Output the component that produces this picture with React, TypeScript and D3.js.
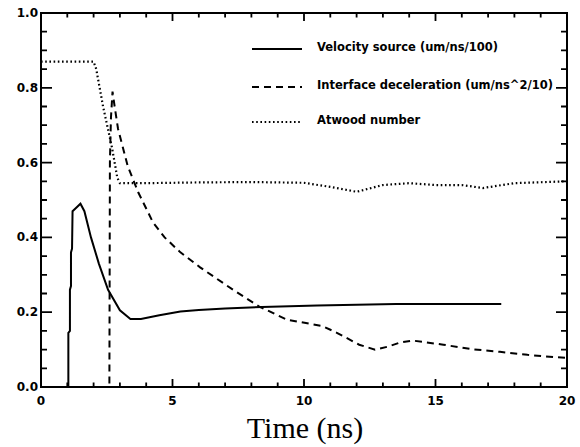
import React from 'react';
import * as d3 from 'd3';

// tick labels
const timeTicks = [0, 5, 10, 15, 20];
const valueTicks = [0, 0.2, 0.4, 0.6, 0.8, 1.0];

// Velocity source (um/ns/100)
const velocityTime = [0, 1.04, 1.04, 1.1, 1.1, 1.14, 1.14, 1.18, 1.2, 1.35, 1.5, 1.65, 1.9, 2.2, 2.55, 3.0, 3.4, 3.8, 4.5, 5.3, 6.0, 7.0, 8.4, 10.5, 13.5, 17.5];
const velocityValue = [0, 0, 0.145, 0.15, 0.26, 0.27, 0.36, 0.37, 0.47, 0.48, 0.49, 0.47, 0.4, 0.33, 0.26, 0.205, 0.182, 0.182, 0.192, 0.202, 0.206, 0.21, 0.214, 0.218, 0.222, 0.222];

// Interface deceleration (um/ns^2/10)
const decelTime = [0, 2.6, 2.62, 2.66, 2.72, 2.8, 2.93, 3.3, 3.7, 4.26, 4.7, 5.3, 6.05, 7.3, 8.3, 9.35, 10.7, 11.25, 12.1, 12.7, 13.2, 13.65, 14.15, 15.3, 16.4, 17.45, 18.5, 19.5, 20];
const decelValue = [0, 0, 0.6, 0.72, 0.79, 0.75, 0.69, 0.59, 0.52, 0.44, 0.4, 0.36, 0.32, 0.26, 0.215, 0.18, 0.163, 0.145, 0.113, 0.1, 0.108, 0.119, 0.124, 0.113, 0.101, 0.094, 0.086, 0.08, 0.078];

// Atwood number
const atwoodTime = [0, 2.0, 2.1, 2.36, 2.7, 2.9, 3.0, 4, 6, 8, 10, 11, 12, 13, 14, 15, 16, 16.8, 18, 20];
const atwoodValue = [0.87, 0.87, 0.85, 0.75, 0.64, 0.56, 0.545, 0.545, 0.547, 0.548, 0.546, 0.535, 0.522, 0.54, 0.545, 0.54, 0.54, 0.532, 0.545, 0.55];

const legendLabels = ['Velocity source (um/ns/100)', 'Interface deceleration (um/ns^2/10)', 'Atwood number'];
const dashes = [undefined, '7,5', '1.6,2.6'];

const width = 580;
const height = 447;
const left = 41, right = 567, top = 13, bottom = 387;

const App: React.FC = () => {
  const x = d3.scaleLinear().domain([0, 20]).range([left, right]);
  const y = d3.scaleLinear().domain([0, 1]).range([bottom, top]);
  const line = d3.line<[number, number]>().x(d => x(d[0])).y(d => y(d[1]));

  const series = [
    velocityTime.map((t, i) => [t, velocityValue[i]] as [number, number]),
    decelTime.map((t, i) => [t, decelValue[i]] as [number, number]),
    atwoodTime.map((t, i) => [t, atwoodValue[i]] as [number, number]),
  ];

  // minor ticks every 1 ns and every 0.05
  const xMinor = x.ticks(20);
  const yMinor = y.ticks(20);
  const labelFont = '"DejaVu Sans", sans-serif';
  const legendY = [47, 85, 120];

  // tick marks on all four sides, majors longer
  let tickPath = '';
  xMinor.forEach(t => {
    const len = Math.round(t) % 5 === 0 ? 8 : 4.5;
    tickPath += `M${x(t)},${bottom}V${bottom - len}M${x(t)},${top}V${top + len}`;
  });
  yMinor.forEach(v => {
    const len = Math.round(v * 100) % 20 === 0 ? 11 : 6;
    tickPath += `M${left},${y(v)}H${left + len}M${right},${y(v)}H${right - len}`;
  });

  return (
    <svg width={width} height={height} style={{ position: 'absolute', left: 0, top: 0, background: '#fff' }}>
      <rect x={left} y={top} width={right - left} height={bottom - top} fill="none" stroke="#000" strokeWidth={2} />
      <path d={tickPath} fill="none" stroke="#000" strokeWidth={1.8} />

      {timeTicks.map(t => (
        <text key={'tx' + t} x={x(t)} y={405} textAnchor="middle"
          style={{ fontFamily: labelFont, fontSize: 12, fontWeight: 'bold' }}>{String(t)}</text>
      ))}
      {valueTicks.map(v => (
        <text key={'ty' + v} x={38} y={y(v) + 4} textAnchor="end"
          style={{ fontFamily: labelFont, fontSize: 12, fontWeight: 'bold' }}>{v.toFixed(1)}</text>
      ))}
      <text x={305} y={438} textAnchor="middle"
        style={{ fontFamily: '"Liberation Serif", "Times New Roman", serif', fontSize: 30 }}>Time (ns)</text>

      {series.map((s, i) => (
        <path key={'s' + i} d={line(s) || ''} fill="none" stroke="#000"
          strokeWidth={i === 2 ? 2.2 : 2} strokeDasharray={dashes[i]} />
      ))}

      {legendLabels.map((label, i) => (
        <g key={'l' + i}>
          <line x1={252} x2={302} y1={legendY[i] + 2} y2={legendY[i] + 2} stroke="#000"
            strokeWidth={i === 2 ? 2.2 : 2} strokeDasharray={dashes[i]} />
          <text x={317} y={legendY[i] + 4}
            style={{ fontFamily: labelFont, fontSize: 11.5, fontWeight: 'bold' }}>{label}</text>
        </g>
      ))}
    </svg>
  );
};

export default App;
